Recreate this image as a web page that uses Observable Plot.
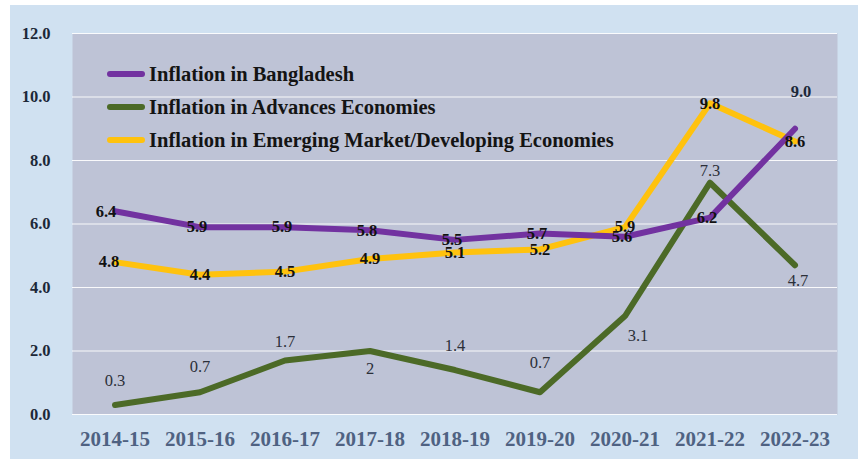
<!DOCTYPE html>
<html><head><meta charset="utf-8">
<script src="https://cdn.jsdelivr.net/npm/d3@7"></script>
<script src="https://cdn.jsdelivr.net/npm/@observablehq/plot@0.6"></script>
<style>
html,body{margin:0;padding:0;background:#fff;width:858px;height:459px;overflow:hidden;}
#wrap{position:absolute;left:10px;top:5px;width:848px;height:454px;background:#d0e1f1;}
#legend{position:absolute;left:97px;top:0;font-family:"Liberation Serif","Times New Roman",serif;font-weight:bold;font-size:20.5px;color:#141414;}
.li{position:absolute;white-space:nowrap;display:flex;align-items:center;}
.sw{width:38px;height:6px;border-radius:3px;margin-right:4px;}
</style></head>
<body>
<div id="wrap"><div id="chart"></div><div id="legend"></div></div>
<script>
const years = ["2014-15","2015-16","2016-17","2017-18","2018-19","2019-20","2020-21","2021-22","2022-23"];
const bangladesh = [6.4, 5.9, 5.9, 5.8, 5.5, 5.7, 5.6, 6.2, 9.0];
const advanced = [0.3, 0.7, 1.7, 2, 1.4, 0.7, 3.1, 7.3, 4.7];
const emerging = [4.8, 4.4, 4.5, 4.9, 5.1, 5.2, 5.9, 9.8, 8.6];
const advancedLabels = ["0.3","0.7","1.7","2","1.4","0.7","3.1","7.3","4.7"];
const seriesNames = ["Inflation in Bangladesh","Inflation in Advances Economies","Inflation in Emerging Market/Developing Economies"];
const yTicks = [0,2,4,6,8,10,12];

const colors = {bd:"#7232a0", adv:"#4c6a27", em:"#ffc20e"};
const font = '"Liberation Serif","Times New Roman",serif';

const bdData = years.map((y,i)=>({year:y, v:bangladesh[i], label:bangladesh[i].toFixed(1)}));
const advData = years.map((y,i)=>({year:y, v:advanced[i], label:advancedLabels[i]}));
const emData = years.map((y,i)=>({year:y, v:emerging[i], label:emerging[i].toFixed(1)}));

// green label offsets (above/below)
const advDy = [-24,-26,-19,18,-24,-30,20,-12,15];
const advDx = [0,0,0,0,0,0,13,0,3];

const chart = Plot.plot({
  width: 848, height: 454,
  marginLeft: 62, marginRight: 21, marginTop: 28, marginBottom: 45,
  style: {background:"transparent", fontFamily: font, overflow:"visible"},
  x: {type:"band", domain: years, padding:0, label:null, tickSize:0, tickPadding:17},
  y: {domain:[0,12], ticks: yTicks, tickFormat: d3.format(".1f"), label:null, tickSize:0, tickPadding:22},
  marks: [
    Plot.frame({fill:"#bec3d6", stroke:null}),
    Plot.gridY(yTicks, {stroke:"#ffffff", strokeOpacity:0.9, strokeWidth:1.2}),
    Plot.axisY({ticks:yTicks, tickFormat:d3.format(".1f"), tickSize:0, tickPadding:22, fontSize:16.5, fontWeight:"bold", fill:"#1c2838", label:null}),
    Plot.axisX({tickSize:0, tickPadding:17, fontSize:21, fontWeight:"bold", fill:"#4f6282", label:null}),
    Plot.line(advData, {x:"year", y:"v", stroke:colors.adv, strokeWidth:6, strokeLinejoin:"round", strokeLinecap:"round"}),
    Plot.line(emData, {x:"year", y:"v", stroke:colors.em, strokeWidth:6, strokeLinejoin:"round", strokeLinecap:"round"}),
    Plot.line(bdData, {x:"year", y:"v", stroke:colors.bd, strokeWidth:6, strokeLinejoin:"round", strokeLinecap:"round"}),
    ...advData.map((d,i)=>Plot.text([d], {x:"year", y:"v", text:"label", dy:advDy[i], dx:advDx[i], fontSize:16.5, fill:"#2b2f38"})),
    Plot.text(emData.slice(0,1), {x:"year", y:"v", text:"label", dx:-6, fontSize:16.5, fontWeight:"bold", fill:"#111"}),
    Plot.text(emData.slice(1), {x:"year", y:"v", text:"label", fontSize:16.5, fontWeight:"bold", fill:"#111"}),
    Plot.text(bdData.slice(0,1), {x:"year", y:"v", text:"label", dx:-9, fontSize:16.5, fontWeight:"bold", fill:"#111"}),
    Plot.text(bdData.slice(1,8), {x:"year", y:"v", text:"label", dx:-3, fontSize:16.5, fontWeight:"bold", fill:"#111"}),
    Plot.text(bdData.slice(8), {x:"year", y:"v", text:"label", dx:6, dy:-37, fontSize:16.5, fontWeight:"bold", fill:"#1c2838"})
  ]
});
document.getElementById("chart").appendChild(chart);

const legend = document.getElementById("legend");
const legColors = [colors.bd, colors.adv, colors.em];
const legTops = [69, 102, 135];
seriesNames.forEach((n,i)=>{
  const row = document.createElement("div");
  row.className = "li";
  row.style.top = (legTops[i]-12) + "px";
  row.style.height = "24px";
  const sw = document.createElement("div");
  sw.className = "sw"; sw.style.background = legColors[i];
  const t = document.createElement("span"); t.textContent = n;
  row.appendChild(sw); row.appendChild(t);
  legend.appendChild(row);
});
</script>
</body></html>
